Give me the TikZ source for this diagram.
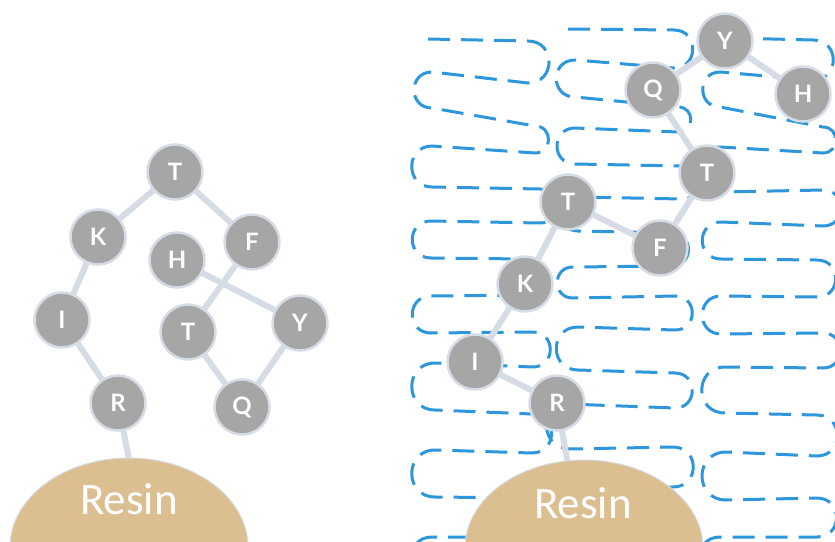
\documentclass[tikz,border=0pt]{standalone}
\usepackage{fontspec}
\newfontfamily\nodefont{Lato}
\newfontfamily\resinfont{Carlito}
\definecolor{nodegray}{RGB}{166,166,166}
\definecolor{rimcol}{RGB}{214,220,229}
\definecolor{linkcol}{RGB}{214,220,229}
\definecolor{dashblue}{RGB}{45,150,220}
\definecolor{resincol}{RGB}{219,191,145}
\pgfdeclarelayer{coils}
\pgfdeclarelayer{links}
\pgfsetlayers{coils,links,main}
\begin{document}
\begin{tikzpicture}[x=1pt,y=-1pt,
  res/.style={circle, fill=nodegray, draw=rimcol, line width=2.5pt, minimum size=55pt, inner sep=0pt, text=white, font=\nodefont\fontsize{24}{24}\selectfont\bfseries},
  link/.style={draw=linkcol, line width=6pt},
  coil/.style={draw=dashblue, line width=3pt, dash pattern=on 22pt off 11pt},
  resin/.style={fill=resincol, draw=rimcol, line width=1pt},
  resintext/.style={text=white, anchor=base, font=\resinfont\fontsize{45}{45}\selectfont}]
\useasboundingbox (0,0) rectangle (835,541);
\clip (0,0) rectangle (835,541);

% ---------- coils (right side) ----------
\begin{pgfonlayer}{coils}
\draw[coil] (428,39) -- (528,41)
  .. controls +(28,0) and +(28,0) .. (528,83) -- (432,72)
  .. controls +(-24,0) and +(-24,0) .. (432,108) -- (535,126)
  .. controls +(18,0) and +(18,0) .. (535,153) -- (432,146)
  .. controls +(-27,0) and +(-27,0) .. (432,187) -- (540,189)
  .. controls +(23,0) and +(23,0) .. (540,223) -- (431,221)
  .. controls +(-25,0) and +(-25,0) .. (431,258) -- (525,259)
  .. controls +(24,0) and +(24,0) .. (525,295) -- (431,296)
  .. controls +(-25,0) and +(-25,0) .. (431,333) -- (533,332)
  .. controls +(23,0) and +(23,0) .. (533,367) -- (435,363)
  .. controls +(-31,0) and +(-31,0) .. (435,410) -- (532,414)
  .. controls +(26,0) and +(26,0) .. (532,453) -- (435,450)
  .. controls +(-31,0) and +(-31,0) .. (435,497) -- (530,498)
  .. controls +(26,0) and +(26,0) .. (530,537) -- (432,537)
  .. controls +(-28,0) and +(-28,0) .. (432,580);

\draw[coil] (568,29) -- (674,30)
  .. controls +(25,0) and +(25,0) .. (674,68) -- (575,60)
  .. controls +(-25,0) and +(-25,0) .. (575,97) -- (678,107)
  .. controls +(17,0) and +(17,0) .. (678,132) -- (575,128)
  .. controls +(-24,0) and +(-24,0) .. (575,164) -- (682,166)
  .. controls +(22,0) and +(22,0) .. (682,199) -- (580,197)
  .. controls +(-23,0) and +(-23,0) .. (578,231) -- (672,233)
  .. controls +(22,0) and +(22,0) .. (672,266) -- (573,267)
  .. controls +(-21,0) and +(-21,0) .. (573,298) -- (675,296)
  .. controls +(23,0) and +(23,0) .. (675,330) -- (578,327)
  .. controls +(-29,0) and +(-29,0) .. (578,370) -- (675,373)
  .. controls +(23,0) and +(23,0) .. (675,408) -- (568,404)
  .. controls +(-30,0) and +(-30,0) .. (570,449) -- (673,447)
  .. controls +(27,0) and +(27,0) .. (673,487) -- (575,488)
  .. controls +(-28,0) and +(-28,0) .. (575,530) -- (680,530)
  .. controls +(27,0) and +(27,0) .. (680,570);

\draw[coil] (730,38) -- (813,40)
  .. controls +(27,0) and +(27,0) .. (813,80) -- (720,72)
  .. controls +(-23,0) and +(-23,0) .. (720,107) -- (823,127)
  .. controls +(17,0) and +(17,0) .. (823,153) -- (720,147)
  .. controls +(-30,0) and +(-30,0) .. (722,192) -- (823,190)
  .. controls +(24,0) and +(24,0) .. (823,226) -- (721,222)
  .. controls +(-25,0) and +(-25,0) .. (721,259) -- (817,260)
  .. controls +(25,0) and +(25,0) .. (817,297) -- (721,296)
  .. controls +(-25,0) and +(-25,0) .. (721,334) -- (823,333)
  .. controls +(23,0) and +(23,0) .. (823,368) -- (725,367)
  .. controls +(-31,0) and +(-31,0) .. (725,413) -- (817,415)
  .. controls +(27,0) and +(27,0) .. (817,456) -- (726,452)
  .. controls +(-32,0) and +(-32,0) .. (726,500) -- (817,498)
  .. controls +(26,0) and +(26,0) .. (817,537) -- (720,537)
  .. controls +(-28,0) and +(-28,0) .. (720,580);
\end{pgfonlayer}

% ---------- left chain ----------
\node[res] (lT1) at (175,172) {T};
\node[res] (lK)  at (98,237)  {K};
\node[res] (lF)  at (252,242) {F};
\node[res] (lH)  at (177,260) {H};
\node[res] (lI)  at (62,320)  {I};
\node[res] (lT2) at (188,332) {T};
\node[res] (lY)  at (300,323) {Y};
\node[res] (lR)  at (118,403) {R};
\node[res] (lQ)  at (242,407) {Q};
\coordinate (lBase) at (131,470);

% ---------- right chain ----------
\node[res] (rY)  at (725,41)  {Y};
\node[res] (rQ)  at (653,90)  {Q};
\node[res] (rH)  at (803,94)  {H};
\node[res] (rT1) at (707,173) {T};
\node[res] (rT2) at (568,202) {T};
\node[res] (rF)  at (660,248) {F};
\node[res] (rK)  at (525,284) {K};
\node[res] (rI)  at (475,362) {I};
\node[res] (rR)  at (557,403) {R};
\coordinate (rBase) at (569,470);

\begin{pgfonlayer}{links}
\foreach \a/\b in {lT1/lK, lT1/lF, lK/lI, lI/lR, lR/lBase, lF/lT2, lH/lY, lT2/lQ, lQ/lY,
                   rY/rQ, rY/rH, rQ/rT1, rT1/rF, rF/rT2, rT2/rK, rK/rI, rI/rR, rR/rBase}
  \draw[link] (\a.center) -- (\b.center);
\end{pgfonlayer}

% ---------- resin beads ----------
\path[resin] (129,547) ellipse [x radius=119, y radius=89];
\node[resintext] (lResin) at (129,514) {Resin};
\path[resin] (584,548) ellipse [x radius=119, y radius=88];
\node[resintext] (rResin) at (583,518) {Resin};
\end{tikzpicture}
\end{document}
